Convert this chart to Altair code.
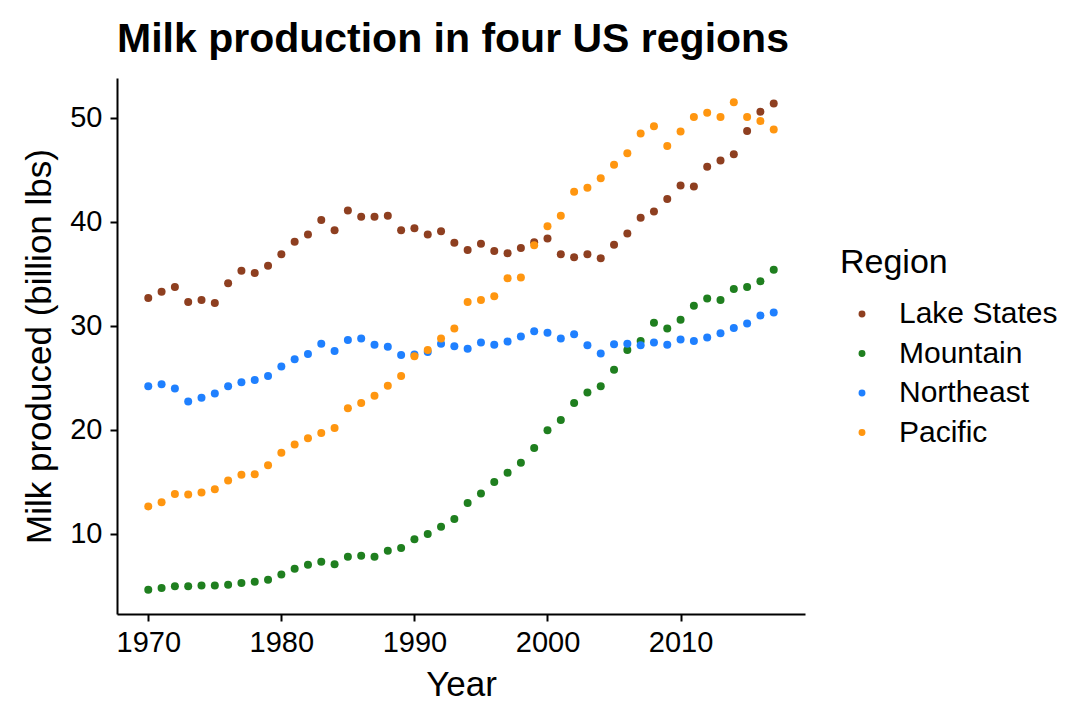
import altair as alt
import pandas as pd

years = list(range(1970, 2018))

lake_states = [32.7, 33.3, 33.75, 32.3, 32.5, 32.2, 34.1, 35.3, 35.1, 35.8,
               36.9, 38.1, 38.8, 40.2, 39.2, 41.1, 40.5, 40.5, 40.6, 39.2,
               39.4, 38.8, 39.1, 38.0, 37.3, 37.9, 37.2, 37.0, 37.5, 38.05,
               38.4, 36.9, 36.6, 36.9, 36.5, 37.8, 38.9, 40.4, 41.0, 42.2,
               43.5, 43.4, 45.3, 45.9, 46.5, 48.75, 50.6, 51.4]
mountain = [4.65, 4.8, 4.97, 4.97, 5.05, 5.05, 5.13, 5.3, 5.4, 5.6,
            6.1, 6.67, 7.05, 7.33, 7.08, 7.8, 7.9, 7.8, 8.4, 8.65,
            9.5, 10.0, 10.7, 11.45, 12.98, 13.9, 15.0, 15.9, 16.85, 18.27,
            19.97, 20.95, 22.6, 23.6, 24.2, 25.8, 27.7, 28.55, 30.3, 29.75,
            30.6, 31.95, 32.65, 32.5, 33.55, 33.75, 34.3, 35.4]
northeast = [24.2, 24.4, 24.0, 22.75, 23.1, 23.5, 24.2, 24.6, 24.8, 25.2,
             26.1, 26.8, 27.3, 28.3, 27.6, 28.65, 28.8, 28.2, 28.0, 27.2,
             27.25, 27.5, 28.3, 28.05, 27.8, 28.4, 28.2, 28.5, 29.0, 29.5,
             29.35, 28.8, 29.2, 28.15, 27.35, 28.25, 28.3, 28.15, 28.4, 28.2,
             28.7, 28.55, 28.9, 29.3, 29.8, 30.25, 31.0, 31.3]
pacific = [12.65, 13.05, 13.85, 13.8, 14.0, 14.3, 15.15, 15.7, 15.75, 16.6,
           17.8, 18.6, 19.2, 19.7, 20.2, 22.1, 22.6, 23.3, 24.25, 25.2,
           27.1, 27.7, 28.8, 29.75, 32.3, 32.5, 32.85, 34.6, 34.65, 37.75,
           39.6, 40.6, 42.9, 43.3, 44.2, 45.5, 46.6, 48.5, 49.2, 47.3,
           48.7, 50.1, 50.5, 50.1, 51.5, 50.1, 49.7, 48.9]

regions = ["Lake States", "Mountain", "Northeast", "Pacific"]
colors = ["#8E3F20", "#1F7F1F", "#1F80FF", "#FF9610"]
series = [lake_states, mountain, northeast, pacific]

rows = []
for r, vals in zip(regions, series):
    for y, v in zip(years, vals):
        rows.append({"Year": y, "Milk": v, "Region": r})
df = pd.DataFrame(rows)

# ggplot-style 5% expansion
xmin, xmax = min(years), max(years)
xpad = (xmax - xmin) * 0.05
allv = lake_states + mountain + northeast + pacific
ymin, ymax = min(allv), max(allv)
ypad = (ymax - ymin) * 0.05

FONT = "Liberation Sans"

chart = alt.Chart(df).mark_circle(size=64, opacity=1).encode(
    x=alt.X("Year:Q",
            scale=alt.Scale(domain=[xmin - xpad, xmax + xpad], nice=False, zero=False),
            axis=alt.Axis(values=[1970, 1980, 1990, 2000, 2010], format="d",
                          title="Year", grid=False,
                          domainColor="black", domainWidth=2,
                          tickColor="black", tickWidth=2, tickSize=7,
                          labelFont=FONT, labelFontSize=29, labelColor="black",
                          titleFont=FONT, titleFontSize=35, titleColor="black",
                          titleFontWeight="normal",
                          labelPadding=7, titlePadding=10)),
    y=alt.Y("Milk:Q",
            scale=alt.Scale(domain=[ymin - ypad, ymax + ypad], nice=False, zero=False),
            axis=alt.Axis(values=[10, 20, 30, 40, 50],
                          title="Milk produced (billion lbs)", grid=False,
                          domainColor="black", domainWidth=2,
                          tickColor="black", tickWidth=2, tickSize=7,
                          labelFont=FONT, labelFontSize=29, labelColor="black",
                          titleFont=FONT, titleFontSize=35, titleColor="black",
                          titleFontWeight="normal",
                          labelPadding=8, titlePadding=12)),
    color=alt.Color("Region:N",
                    scale=alt.Scale(domain=regions, range=colors),
                    legend=alt.Legend(title="Region", orient="none",
                                      legendX=723, legendY=168,
                                      titleFontSize=34, titleFont=FONT,
                                      titleFontWeight="normal", titleColor="black",
                                      titlePadding=19,
                                      labelFontSize=30, labelFont=FONT,
                                      labelColor="black", labelLimit=300,
                                      symbolType="circle", symbolSize=48,
                                      symbolStrokeWidth=0,
                                      symbolOffset=7, labelOffset=22,
                                      rowPadding=9.5)),
).properties(
    width=688,
    height=536,
    title=alt.TitleParams("Milk production in four US regions",
                          anchor="start", frame="group", font=FONT, fontSize=41,
                          fontWeight="bold", color="black", offset=17),
    autosize=alt.AutoSizeParams(type="none"),
    padding={"left": 109, "top": 70, "right": 253, "bottom": 90},
).configure_view(
    stroke=None
)

chart.save("out.html", embed_options={"renderer": "svg", "actions": False})
